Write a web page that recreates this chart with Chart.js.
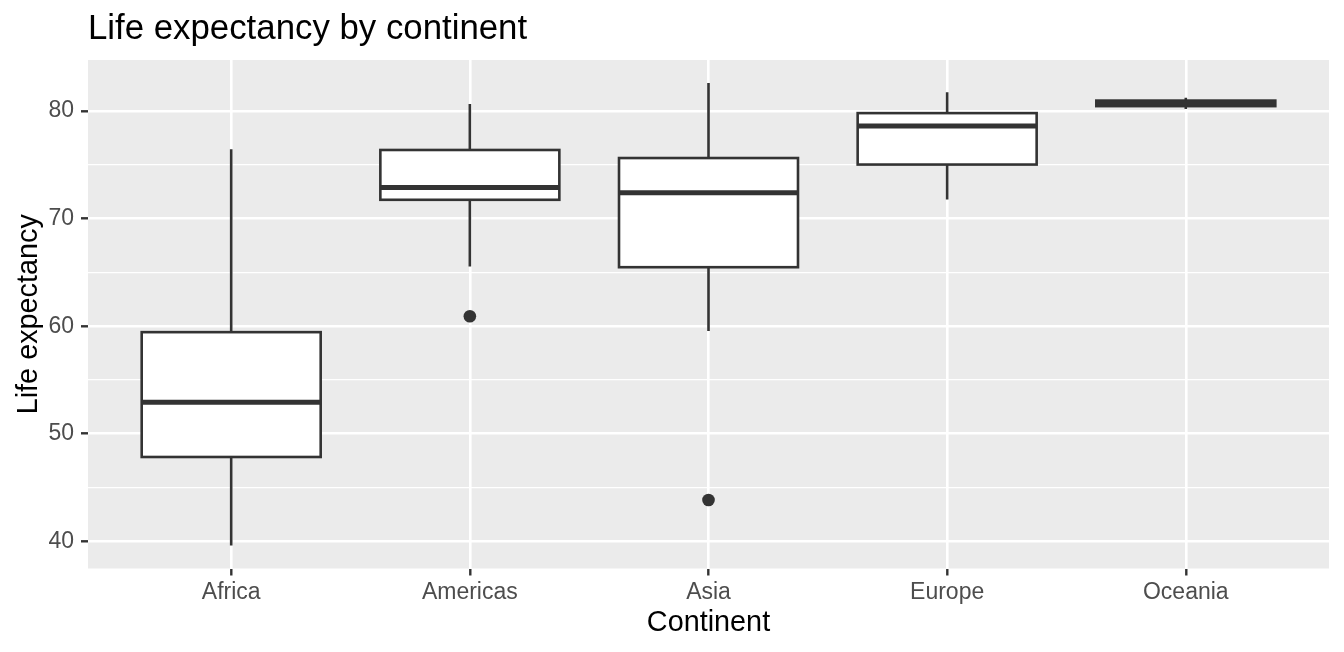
<!DOCTYPE html>
<html lang="en">
<head>
<meta charset="UTF-8">
<title>Life expectancy by continent</title>
<script src="https://cdn.jsdelivr.net/npm/chart.js"></script>
<style>
  html, body { margin: 0; padding: 0; background: #ffffff; }
  canvas { display: block; }
</style>
</head>
<body>
<canvas id="boxChart" width="1344" height="652"></canvas>
<script>
// gapminder 2007, life expectancy per continent (box stats)
const continents = ['Africa', 'Americas', 'Asia', 'Europe', 'Oceania'];
const whiskerLow = [39.613, 65.554, 59.545, 71.777, 80.204];
const q1 = [47.834, 71.752, 65.483, 75.029, 80.4615];
const median = [52.927, 72.899, 72.396, 78.608, 80.7195];
const q3 = [59.443, 76.384, 75.635, 79.812, 80.9775];
const whiskerHigh = [76.442, 80.653, 82.603, 81.757, 81.235];
const outliers = [[], [60.916], [43.828], [], []];
const yMajor = [40, 50, 60, 70, 80];
const yMinor = [45, 55, 65, 75];

const FONT = "'Liberation Sans', Arial, sans-serif";
const INK = '#333333';

const outlierPoints = [];
outliers.forEach((vals, i) => vals.forEach(v => outlierPoints.push({ x: i + 1, y: v })));

const panelPlugin = {
  id: 'panel',
  beforeDraw(chart) {
    const { ctx, chartArea: a } = chart;
    ctx.save();
    ctx.fillStyle = '#EBEBEB';
    ctx.fillRect(a.left, a.top, a.right - a.left, a.bottom - a.top);
    ctx.restore();
  },
  beforeDatasetsDraw(chart) {
    const { ctx } = chart;
    const xs = chart.scales.x, ys = chart.scales.y;
    const half = 0.375;
    ctx.save();
    ctx.strokeStyle = INK;
    continents.forEach((c, i) => {
      const cx = xs.getPixelForValue(i + 1);
      const x0 = xs.getPixelForValue(i + 1 - half);
      const x1 = xs.getPixelForValue(i + 1 + half);
      // whiskers
      ctx.lineWidth = 2.6;
      ctx.beginPath();
      ctx.moveTo(cx, ys.getPixelForValue(q3[i]));
      ctx.lineTo(cx, ys.getPixelForValue(whiskerHigh[i]));
      ctx.moveTo(cx, ys.getPixelForValue(q1[i]));
      ctx.lineTo(cx, ys.getPixelForValue(whiskerLow[i]));
      ctx.stroke();
      // box
      const yt = ys.getPixelForValue(q3[i]);
      const yb = ys.getPixelForValue(q1[i]);
      ctx.fillStyle = '#ffffff';
      ctx.fillRect(x0, yt, x1 - x0, yb - yt);
      ctx.strokeRect(x0, yt, x1 - x0, yb - yt);
      // median
      ctx.lineWidth = 5;
      ctx.beginPath();
      const ym = ys.getPixelForValue(median[i]);
      ctx.moveTo(x0, ym);
      ctx.lineTo(x1, ym);
      ctx.stroke();
    });
    ctx.restore();
  },
  afterDraw(chart) {
    const { ctx, chartArea: a } = chart;
    ctx.save();
    ctx.fillStyle = '#000000';
    ctx.textBaseline = 'alphabetic';
    ctx.font = `34.8px ${FONT}`;
    ctx.textAlign = 'left';
    ctx.fillText('Life expectancy by continent', a.left, 39);
    ctx.font = `28.8px ${FONT}`;
    ctx.textAlign = 'center';
    ctx.fillText('Continent', (a.left + a.right) / 2, 631);
    ctx.translate(36.5, (a.top + a.bottom) / 2);
    ctx.rotate(-Math.PI / 2);
    ctx.fillText('Life expectancy', 0, 0);
    ctx.restore();
  }
};

new Chart(document.getElementById('boxChart'), {
  type: 'scatter',
  data: {
    datasets: [{
      label: 'outliers',
      data: outlierPoints,
      pointRadius: 6.3,
      pointBackgroundColor: INK,
      pointBorderWidth: 0,
      pointBorderColor: INK
    }]
  },
  options: {
    responsive: false,
    devicePixelRatio: 1,
    animation: false,
    layout: { padding: { top: 60, right: 15, left: 0, bottom: 0 } },
    plugins: { legend: { display: false }, tooltip: { enabled: false } },
    scales: {
      x: {
        type: 'linear',
        min: 0.4,
        max: 5.6,
        afterBuildTicks: s => { s.ticks = continents.map((c, i) => ({ value: i + 1 })); },
        afterFit: s => { s.height = 83.5; },
        border: { display: false },
        grid: { color: '#ffffff', lineWidth: 2.6, tickColor: INK, tickWidth: 2.4, tickLength: 7 },
        ticks: {
          autoSkip: false,
          maxRotation: 0,
          padding: 3,
          color: '#4D4D4D',
          font: { family: FONT, size: 23 },
          callback: v => continents[v - 1]
        }
      },
      y: {
        type: 'linear',
        min: 37.464,
        max: 84.752,
        afterBuildTicks: s => {
          s.ticks = yMajor.concat(yMinor).sort((a, b) => a - b).map(v => ({ value: v }));
        },
        afterFit: s => { s.width = 88; },
        border: { display: false },
        grid: {
          color: '#ffffff',
          lineWidth: c => (yMajor.includes(c.tick.value) ? 2.6 : 1.3),
          tickColor: c => (yMajor.includes(c.tick.value) ? INK : 'rgba(0,0,0,0)'),
          tickWidth: 2.4,
          tickLength: 7
        },
        ticks: {
          autoSkip: false,
          padding: 7,
          color: '#4D4D4D',
          font: { family: FONT, size: 23 },
          callback: v => (yMajor.includes(v) ? v : '')
        }
      }
    }
  },
  plugins: [panelPlugin]
});
</script>
</body>
</html>
